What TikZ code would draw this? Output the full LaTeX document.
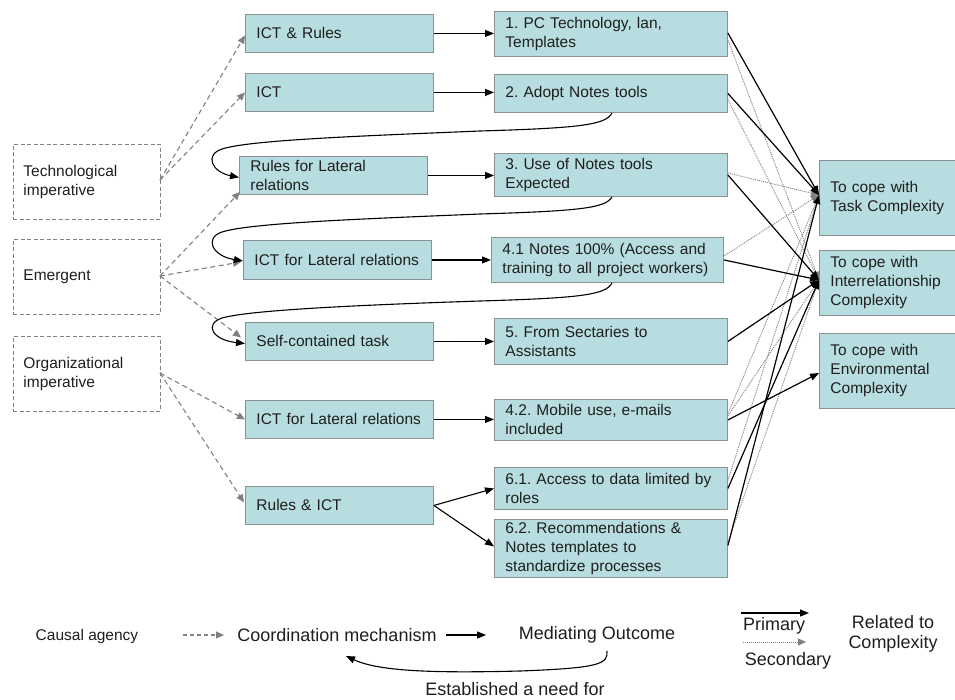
\documentclass[tikz,border=0pt]{standalone}
\usepackage{fontspec}
\setmainfont{Liberation Sans}
\usetikzlibrary{arrows.meta,calc}
\frenchspacing
\definecolor{boxfill}{RGB}{184,221,224}
\definecolor{boxline}{RGB}{140,144,146}
\definecolor{txt}{RGB}{30,30,30}
\definecolor{dashgray}{RGB}{128,128,128}
\definecolor{dotgray}{RGB}{128,128,128}
\tikzset{
  box/.style={draw=boxline, line width=0.9pt, fill=boxfill, anchor=north west,
    inner xsep=11pt, inner ysep=2pt, align=left, text=txt,
    font=\fontsize{15.5}{19}\selectfont},
  agency/.style={draw=dashgray, dash pattern=on 4pt off 2.5pt, line width=0.9pt,
    anchor=north west, inner xsep=10pt, align=left, text=txt,
    font=\fontsize{15.5}{19}\selectfont},
  causal/.style={draw=dashgray, dash pattern=on 5pt off 3.5pt, line width=1.1pt,
    -{Triangle[length=8pt,width=7pt]}},
  flow/.style={draw=black, line width=1.1pt, -{Triangle[length=9pt,width=7pt]}},
  primary/.style={draw=black, line width=1.2pt, -{Triangle[length=9pt,width=7pt]}},
  secondary/.style={draw=dotgray, dash pattern=on 1pt off 1pt, line width=0.9pt,
    -{Triangle[length=8pt,width=7pt]}},
  needfor/.style={draw=black, line width=1.1pt, -{Triangle[length=9pt,width=7pt]}},
  legend/.style={text=txt, font=\fontsize{18}{21}\selectfont, align=center},
}
\begin{document}
\begin{tikzpicture}[x=1pt, y=-1pt]
\useasboundingbox (0,0) rectangle (955,699);

% causal agencies
\node[agency, minimum width=147pt, minimum height=75pt, text width=127pt] (tech) at (13,144) {Technological\\imperative};
\node[agency, minimum width=147pt, minimum height=75pt, text width=127pt] (emer) at (13,239) {Emergent};
\node[agency, minimum width=147pt, minimum height=75pt, text width=127pt] (org)  at (13,336) {Organizational\\imperative};

% coordination mechanisms
\node[box, minimum width=188pt, minimum height=38pt, text width=166pt] (m1) at (245,14)  {ICT \& Rules};
\node[box, minimum width=188pt, minimum height=38pt, text width=166pt] (m2) at (245,73)  {ICT};
\node[box, minimum width=188pt, minimum height=38pt, text width=166pt] (m3) at (239,156) {Rules for Lateral\\relations};
\node[box, minimum width=188pt, minimum height=39pt, text width=166pt] (m4) at (243,240) {ICT for Lateral relations};
\node[box, minimum width=188pt, minimum height=38pt, text width=166pt] (m5) at (245,322) {Self-contained task};
\node[box, minimum width=188pt, minimum height=38pt, text width=166pt] (m6) at (245,400) {ICT for Lateral relations};
\node[box, minimum width=188pt, minimum height=38pt, text width=166pt] (m7) at (245,486) {Rules \& ICT};

% mediating outcomes
\node[box, minimum width=233pt, minimum height=45pt, text width=211pt] (o1)  at (494,11)  {1. PC Technology, lan,\\Templates};
\node[box, minimum width=233pt, minimum height=38pt, text width=211pt] (o2)  at (494,74)  {2. Adopt Notes tools};
\node[box, minimum width=233pt, minimum height=43pt, text width=211pt] (o3)  at (494,153) {3. Use of Notes tools\\Expected};
\node[box, minimum width=232pt, minimum height=45pt, text width=210pt] (o41) at (491,237) {4.1 Notes 100\% (Access and\\training to all project workers)};
\node[box, minimum width=233pt, minimum height=46pt, text width=211pt] (o5)  at (494,318) {5. From Sectaries to\\Assistants};
\node[box, minimum width=233pt, minimum height=41pt, text width=211pt] (o42) at (494,399) {4.2. Mobile use, e-mails\\included};
\node[box, minimum width=233pt, minimum height=42pt, text width=211pt] (o61) at (494,467) {6.1. Access to data limited by\\roles};
\node[box, minimum width=233pt, minimum height=58pt, text width=211pt] (o62) at (494,519) {6.2. Recommendations \&\\Notes templates to\\standardize processes};

% kinds of complexity
\node[box, minimum width=136pt, minimum height=75pt, text width=114pt] (task) at (819,160) {To cope with\\Task Complexity};
\node[box, minimum width=136pt, minimum height=65pt, text width=114pt] (inter) at (819,250) {To cope with\\Interrelationship\\Complexity};
\node[box, minimum width=136pt, minimum height=75pt, text width=114pt] (env) at (819,333) {To cope with\\Environmental\\Complexity};

% arrival points on the complexity boxes
\coordinate (tIn) at (819,195);
\coordinate (iIn) at (819,280);
\coordinate (eIn) at (819,373);

% causal agency -> mechanism
\coordinate (techOut) at (160,180);
\coordinate (emerOut) at (160,276);
\coordinate (orgOut)  at (160,373);
\draw[causal] (techOut) -- ($(m1.west)+(0,2)$);
\draw[causal] (techOut) -- ($(m2.west)+(0,0)$);
\draw[causal] (emerOut) -- ($(m3.south west)+(1,-3)$);
\draw[causal] (emerOut) -- ($(m4.west)+(-2,2)$);
\draw[causal] (emerOut) -- ($(m5.west)+(-4,-4)$);
\draw[causal] (orgOut)  -- (m6.west);
\draw[causal] (orgOut)  -- ($(m7.west)+(-1,-3)$);

% mechanism -> outcome
\draw[flow] (m1.east) -- (o1.west |- m1.east);
\draw[flow] (m2.east) -- (o2.west |- m2.east);
\draw[flow] (m3.east) -- (o3.west |- m3.east);
\draw[flow] (m4.east) -- (o41.west |- m4.east);
\draw[flow] (m5.east) -- (o5.west |- m5.east);
\draw[flow] (m6.east) -- (o42.west |- m6.east);
\draw[flow] (m7.east) -- ($(o61.west)+(0,0)$);
\draw[flow] (m7.east) -- ($(o62.west)+(0,-2)$);

% outcomes that established a need for the next mechanism
\coordinate (n2) at ($(o2.south west)+(118,0)$);
\coordinate (n3) at ($(o3.south west)+(118,0)$);
\coordinate (n41) at ($(o41.south west)+(121,0)$);
\draw[needfor] (n2) .. controls (606,125) and (580,128) .. (480,131)
  .. controls (360,136) and (250,140) .. (222,149)
  .. controls (204,155) and (212,172) .. ($(m3.west)+(0,2)$);
\draw[needfor] (n3) .. controls (606,208) and (580,211) .. (480,214)
  .. controls (360,219) and (250,223) .. (222,232)
  .. controls (204,238) and (212,256) .. ($(m4.west)+(0,1)$);
\draw[needfor] (n41) .. controls (606,295) and (580,298) .. (480,301)
  .. controls (360,305) and (250,310) .. (222,318)
  .. controls (204,324) and (212,340) .. ($(m5.west)+(0,2)$);

% secondary relations to complexity
\draw[secondary] ($(o1.east)+(0,6)$)  -- (iIn);
\draw[secondary] ($(o2.east)+(0,6)$)  -- (iIn);
\draw[secondary] ($(o3.east)+(0,-2)$) -- (tIn);
\draw[secondary] ($(o41.east)+(0,-4)$) -- (tIn);
\draw[secondary] ($(o42.east)+(0,-6)$) -- (tIn);
\draw[secondary] ($(o42.east)+(0,-4)$) -- (iIn);
\draw[secondary] ($(o61.east)+(0,-8)$) -- (tIn);
\draw[secondary] ($(o62.east)+(0,-6)$) -- (iIn);

% primary relations to complexity
\draw[primary] ($(o1.east)+(0,-1)$) -- (tIn);
\draw[primary] (o2.east) -- (tIn);
\draw[primary] (o3.east) -- (iIn);
\draw[primary] ($(o41.east)+(0,0)$) -- (iIn);
\draw[primary] (o5.east) -- (iIn);
\draw[primary] (o42.east) -- (eIn);
\draw[primary] (o61.east) -- (iIn);
\draw[primary] ($(o62.east)+(0,-3)$) -- (tIn);

% key
\node[text=txt, font=\fontsize{15.5}{18}\selectfont] (kAgency) at (87,636) {Causal agency};
\node[legend] (kMech) at (337,635) {Coordination mechanism};
\node[legend] (kOut) at (597,635) {Mediating Outcome};
\coordinate (kDashA) at (183,635);
\coordinate (kDashB) at (224,635);
\draw[causal, dash pattern=on 4pt off 3pt] (kDashA) -- (kDashB);
\draw[flow] (kMech.east) ++(6,0) coordinate (kFlowA) -- ++(40,0) coordinate (kFlowB);
\coordinate (kNeedA) at (607,651);
\coordinate (kNeedB) at (346,656);
\draw[needfor] (kNeedA) .. controls (608,664) and (600,668) .. (520,671)
  .. controls (440,673) and (380,672) .. (kNeedB);
\node[legend] (kNeed) at (515,689) {Established a need for};
\coordinate (kPriA) at (741,613);
\coordinate (kPriB) at (809,613);
\draw[primary] (kPriA) -- (kPriB);
\node[legend] (kPri) at (774,626) {Primary};
\coordinate (kSecA) at (743,642);
\coordinate (kSecB) at (806,642);
\draw[secondary] (kSecA) -- (kSecB);
\node[legend] (kSec) at (788,661) {Secondary};
\node[legend, font=\fontsize{18}{20}\selectfont] (kRel) at (893,634) {Related to\\Complexity};
\end{tikzpicture}
\end{document}
